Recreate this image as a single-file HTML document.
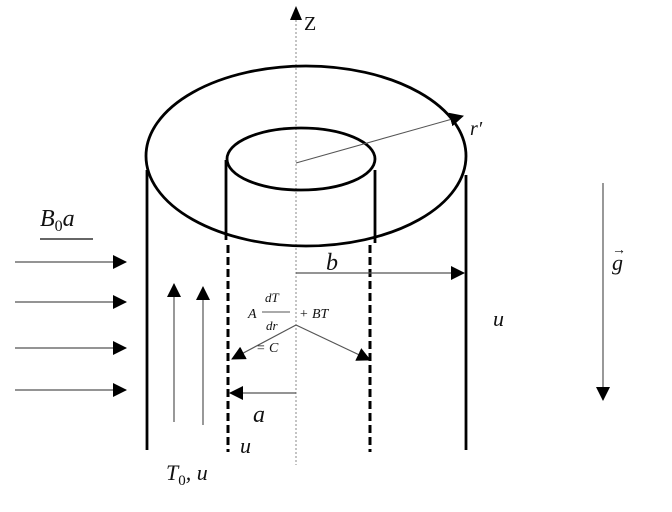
<!DOCTYPE html><html><head><style>body{margin:0;background:#fff}svg{display:block}text{font-family:"Liberation Serif",serif;font-style:italic;fill:#111}</style></head><body>
<svg width="672" height="512" viewBox="0 0 672 512">
<defs><marker id="bh" markerWidth="14" markerHeight="14" refX="13" refY="7" orient="auto" markerUnits="userSpaceOnUse"><path d="M0,0 L14,7 L0,14Z" fill="#000"/></marker></defs>
<line x1="296" y1="20" x2="296" y2="465" stroke="#888" stroke-width="1" stroke-dasharray="2,2"/>
<path d="M290,20 L296,6 L302,20Z" fill="#000"/>
<text x="304" y="30" font-size="20" style="font-style:normal">Z</text>
<ellipse cx="306" cy="156" rx="160" ry="90" fill="none" stroke="#000" stroke-width="2.8"/>
<ellipse cx="301" cy="159" rx="74" ry="31" fill="none" stroke="#000" stroke-width="2.8"/>
<line x1="147" y1="170" x2="147" y2="450" stroke="#000" stroke-width="2.8"/>
<line x1="466" y1="175" x2="466" y2="450" stroke="#000" stroke-width="2.8"/>
<line x1="226" y1="160" x2="226" y2="240" stroke="#000" stroke-width="2.8"/>
<line x1="375" y1="170" x2="375" y2="243" stroke="#000" stroke-width="2.8"/>
<line x1="228" y1="245" x2="228" y2="452" stroke="#000" stroke-width="3" stroke-dasharray="8,4"/>
<line x1="370" y1="245" x2="370" y2="452" stroke="#000" stroke-width="3" stroke-dasharray="8,4"/>
<line x1="296" y1="163" x2="463" y2="116" stroke="#555" stroke-width="1" marker-end="url(#bh)"/>
<text x="470" y="135" font-size="20">r′</text>
<line x1="296" y1="273" x2="464" y2="273" stroke="#555" stroke-width="1.2" marker-end="url(#bh)"/>
<text x="326" y="270" font-size="24">b</text>
<line x1="296" y1="393" x2="230" y2="393" stroke="#555" stroke-width="1.2" marker-end="url(#bh)"/>
<text x="253" y="422" font-size="24">a</text>
<text x="240" y="453" font-size="22">u</text>
<text x="166" y="480" font-size="22">T<tspan font-size="15" dy="5" style="font-style:normal">0</tspan><tspan dy="-5">, u</tspan></text>
<text x="493" y="326" font-size="22">u</text>
<line x1="174" y1="422" x2="174" y2="284" stroke="#555" stroke-width="1.2" marker-end="url(#bh)"/>
<line x1="203" y1="425" x2="203" y2="287" stroke="#555" stroke-width="1.2" marker-end="url(#bh)"/>
<text x="248" y="318" font-size="14">A</text>
<text x="265" y="302" font-size="13">dT</text>
<line x1="262" y1="312" x2="290" y2="312" stroke="#555"/>
<text x="266" y="330" font-size="13">dr</text>
<text x="299" y="318" font-size="14">+ BT</text>
<text x="256" y="352" font-size="14">= C</text>
<line x1="296" y1="325" x2="232" y2="359" stroke="#555" stroke-width="1.2" marker-end="url(#bh)"/>
<line x1="296" y1="325" x2="370" y2="360" stroke="#555" stroke-width="1.2" marker-end="url(#bh)"/>
<text x="40" y="226" font-size="24">B<tspan font-size="16" dy="5" style="font-style:normal">0</tspan><tspan dy="-5">a</tspan></text>
<line x1="40" y1="239" x2="93" y2="239" stroke="#333" stroke-width="1.5"/>
<line x1="15" y1="262" x2="126" y2="262" stroke="#555" stroke-width="1.2" marker-end="url(#bh)"/>
<line x1="15" y1="302" x2="126" y2="302" stroke="#555" stroke-width="1.2" marker-end="url(#bh)"/>
<line x1="15" y1="348" x2="126" y2="348" stroke="#555" stroke-width="1.2" marker-end="url(#bh)"/>
<line x1="15" y1="390" x2="126" y2="390" stroke="#555" stroke-width="1.2" marker-end="url(#bh)"/>
<line x1="603" y1="183" x2="603" y2="400" stroke="#555" stroke-width="1.2" marker-end="url(#bh)"/>
<text x="612" y="270" font-size="22">g</text>
<text x="612" y="254" font-size="14" style="font-style:normal">→</text>
</svg></body></html>
